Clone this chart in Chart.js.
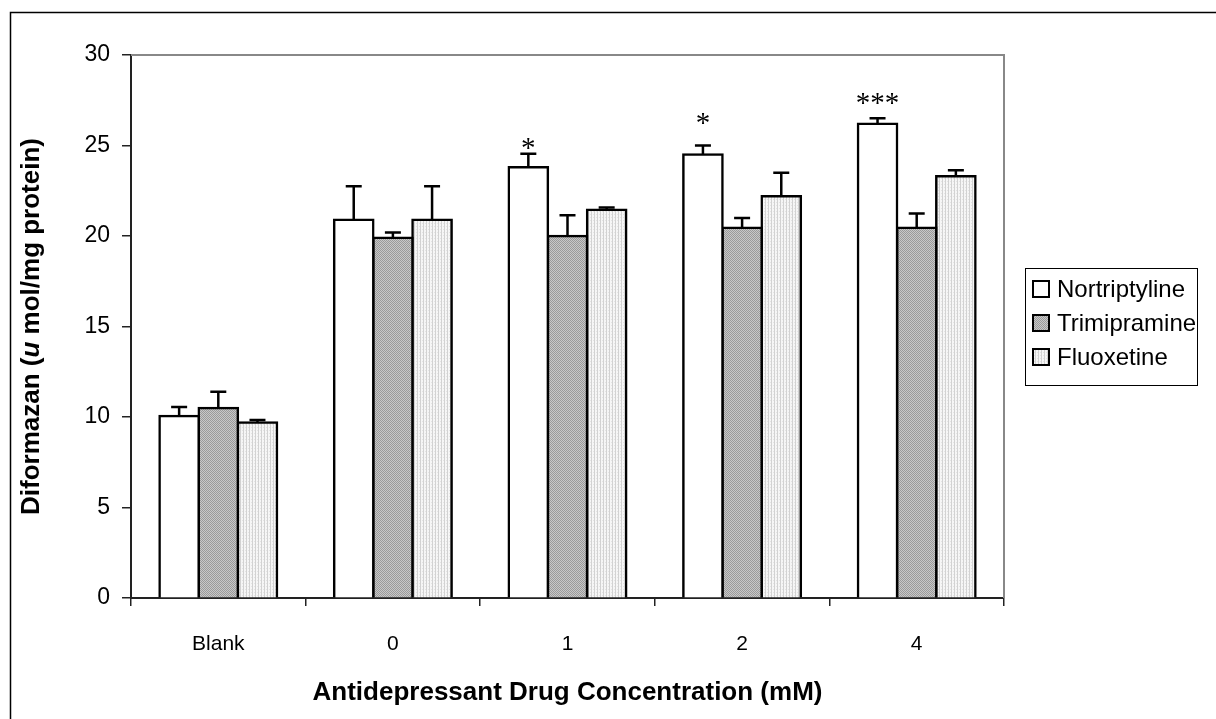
<!DOCTYPE html>
<html>
<head>
<meta charset="utf-8">
<script src="https://cdn.jsdelivr.net/npm/chart.js@4.4.0/dist/chart.umd.min.js"></script>
<style>
  body { margin: 0; background: #fff; }
  canvas { display: block; }
</style>
</head>
<body>
<canvas id="chart" width="1216" height="719"></canvas>
<script>
const categories = ['Blank', '0', '1', '2', '4'];
const seriesNames = ['Nortriptyline', 'Trimipramine', 'Fluoxetine'];

const nortriptyline = [10.05, 20.9, 23.8, 24.5, 26.2];
const trimipramine = [10.5, 19.9, 20.0, 20.45, 20.45];
const fluoxetine = [9.7, 20.9, 21.45, 22.2, 23.3];

const nortriptylineErr = [0.5, 1.85, 0.75, 0.5, 0.3];
const trimipramineErr = [0.9, 0.3, 1.15, 0.55, 0.8];
const fluoxetineErr = [0.13, 1.85, 0.13, 1.3, 0.33];

// asterisks over the Nortriptyline bars and the level they sit at
const significance = ['', '', '*', '*', '***'];
const significanceLevel = [null, null, 25.15, 26.5, 27.65];

const yTicks = [0, 5, 10, 15, 20, 25, 30];

const FONT = "'Liberation Sans', Arial, sans-serif";

function makePattern(draw, size) {
    const c = document.createElement('canvas');
    c.width = size;
    c.height = size;
    const g = c.getContext('2d');
    draw(g);
    return g.createPattern(c, 'repeat');
}

// dense dithered grey
const greyPattern = makePattern((g) => {
    g.fillStyle = '#c8c8c8';
    g.fillRect(0, 0, 4, 4);
    g.fillStyle = '#9a9a9a';
    for (let i = 0; i < 4; i++) {
        g.fillRect(i, i, 1, 1);
        g.fillRect((i + 2) % 4, i, 1, 1);
    }
}, 4);

// light vertical stripes
const stripePattern = makePattern((g) => {
    g.fillStyle = '#f6f6f6';
    g.fillRect(0, 0, 3, 3);
    g.fillStyle = '#d2d2d2';
    g.fillRect(0, 0, 1, 3);
    g.fillStyle = '#e4e4e4';
    g.fillRect(2, 1, 1, 1);
}, 3);

const errors = [nortriptylineErr, trimipramineErr, fluoxetineErr];

const errorBars = {
    id: 'errorBars',
    afterDatasetsDraw(chart) {
        const ctx = chart.ctx;
        const yScale = chart.scales.y;
        ctx.save();
        ctx.strokeStyle = '#000';
        ctx.lineWidth = 2.5;
        chart.data.datasets.forEach((ds, di) => {
            const meta = chart.getDatasetMeta(di);
            meta.data.forEach((bar, i) => {
                const top = yScale.getPixelForValue(ds.data[i] + errors[di][i]);
                ctx.beginPath();
                ctx.moveTo(bar.x, bar.y);
                ctx.lineTo(bar.x, top);
                ctx.moveTo(bar.x - 8, top);
                ctx.lineTo(bar.x + 8, top);
                ctx.stroke();
            });
        });
        const meta = chart.getDatasetMeta(0);
        ctx.fillStyle = '#000';
        ctx.font = "29px 'Liberation Serif', 'Times New Roman', serif";
        ctx.textAlign = 'center';
        ctx.textBaseline = 'alphabetic';
        meta.data.forEach((bar, i) => {
            if (!significance[i]) return;
            const cy = yScale.getPixelForValue(significanceLevel[i]);
            ctx.fillText(significance[i], bar.x, cy + 14);
        });
        ctx.restore();
    }
};

const frame = {
    id: 'frame',
    beforeDraw(chart) {
        const ctx = chart.ctx;
        ctx.save();
        ctx.fillStyle = '#fff';
        ctx.fillRect(0, 0, chart.width, chart.height);
        ctx.strokeStyle = '#000';
        ctx.lineWidth = 1.5;
        ctx.beginPath();
        ctx.moveTo(10.5, chart.height + 2);
        ctx.lineTo(10.5, 12.5);
        ctx.lineTo(chart.width + 2, 12.5);
        ctx.stroke();
        ctx.restore();
    },
    afterDraw(chart) {
        const ctx = chart.ctx;
        const a = chart.chartArea;
        ctx.save();
        ctx.strokeStyle = '#888';
        ctx.lineWidth = 2;
        ctx.beginPath();
        ctx.moveTo(a.left, a.top);
        ctx.lineTo(a.right, a.top);
        ctx.lineTo(a.right, a.bottom);
        ctx.stroke();

        // y title with italic "u"
        const parts = [
            ['Diformazan (', 'bold'],
            ['u', 'italic bold'],
            [' mol/mg protein)', 'bold'],
        ];
        const size = 26;
        let total = 0;
        parts.forEach(([t, s]) => {
            ctx.font = `${s} ${size}px ${FONT}`;
            total += ctx.measureText(t).width;
        });
        ctx.translate(32, (a.top + a.bottom) / 2);
        ctx.rotate(-Math.PI / 2);
        ctx.fillStyle = '#000';
        ctx.textBaseline = 'middle';
        ctx.textAlign = 'left';
        let x = -total / 2;
        parts.forEach(([t, s]) => {
            ctx.font = `${s} ${size}px ${FONT}`;
            ctx.fillText(t, x, 0);
            x += ctx.measureText(t).width;
        });
        ctx.setTransform(1, 0, 0, 1, 0, 0);

        // legend box
        const lx = 1025, ly = 268, lw = 172, lh = 117;
        ctx.strokeStyle = '#000';
        ctx.lineWidth = 1;
        ctx.strokeRect(lx + 0.5, ly + 0.5, lw, lh);
        ctx.font = '24px ' + FONT;
        ctx.textBaseline = 'middle';
        ctx.textAlign = 'left';
        chart.data.datasets.forEach((ds, i) => {
            const cy = ly + 21 + i * 34;
            ctx.fillStyle = ds.backgroundColor;
            ctx.fillRect(lx + 8, cy - 8, 16, 16);
            ctx.lineWidth = 2;
            ctx.strokeStyle = '#000';
            ctx.strokeRect(lx + 8, cy - 8, 16, 16);
            ctx.fillStyle = '#000';
            ctx.fillText(ds.label, lx + 32, cy + 1);
        });
        ctx.restore();
    }
};

const datasets = [nortriptyline, trimipramine, fluoxetine].map((values, i) => ({
    label: seriesNames[i],
    data: values,
    backgroundColor: ['#ffffff', greyPattern, stripePattern][i],
    borderColor: '#000',
    borderWidth: 2.5,
    inflateAmount: 1.25,
    categoryPercentage: 0.673,
    barPercentage: 1.0,
}));

new Chart(document.getElementById('chart'), {
    type: 'bar',
    data: { labels: categories, datasets },
    options: {
        responsive: false,
        animation: false,
        layout: { padding: { left: 0, top: 55, right: 212, bottom: 0 } },
        plugins: {
            legend: { display: false },
            tooltip: { enabled: false },
        },
        scales: {
            x: {
                offset: true,
                afterFit: (scale) => { scale.height = 121; },
                grid: { offset: true, drawOnChartArea: false, tickLength: 8, color: '#222', lineWidth: 1.5 },
                border: { color: '#222', width: 2 },
                ticks: { color: '#000', font: { family: FONT, size: 21 }, padding: 26 },
                title: {
                    display: true,
                    text: 'Antidepressant Drug Concentration (mM)',
                    color: '#000',
                    font: { family: FONT, size: 26, weight: 'bold' },
                    padding: { top: 0, bottom: 11 },
                },
            },
            y: {
                min: 0,
                max: 30,
                afterFit: (scale) => { scale.width = 131; },
                afterBuildTicks: (scale) => { scale.ticks = yTicks.map((v) => ({ value: v })); },
                grid: { drawOnChartArea: false, tickLength: 9, color: '#222', lineWidth: 1.5 },
                border: { color: '#222', width: 2 },
                ticks: { color: '#000', font: { family: FONT, size: 23 }, padding: 12 },
            },
        },
    },
    plugins: [frame, errorBars],
});
</script>
</body>
</html>
